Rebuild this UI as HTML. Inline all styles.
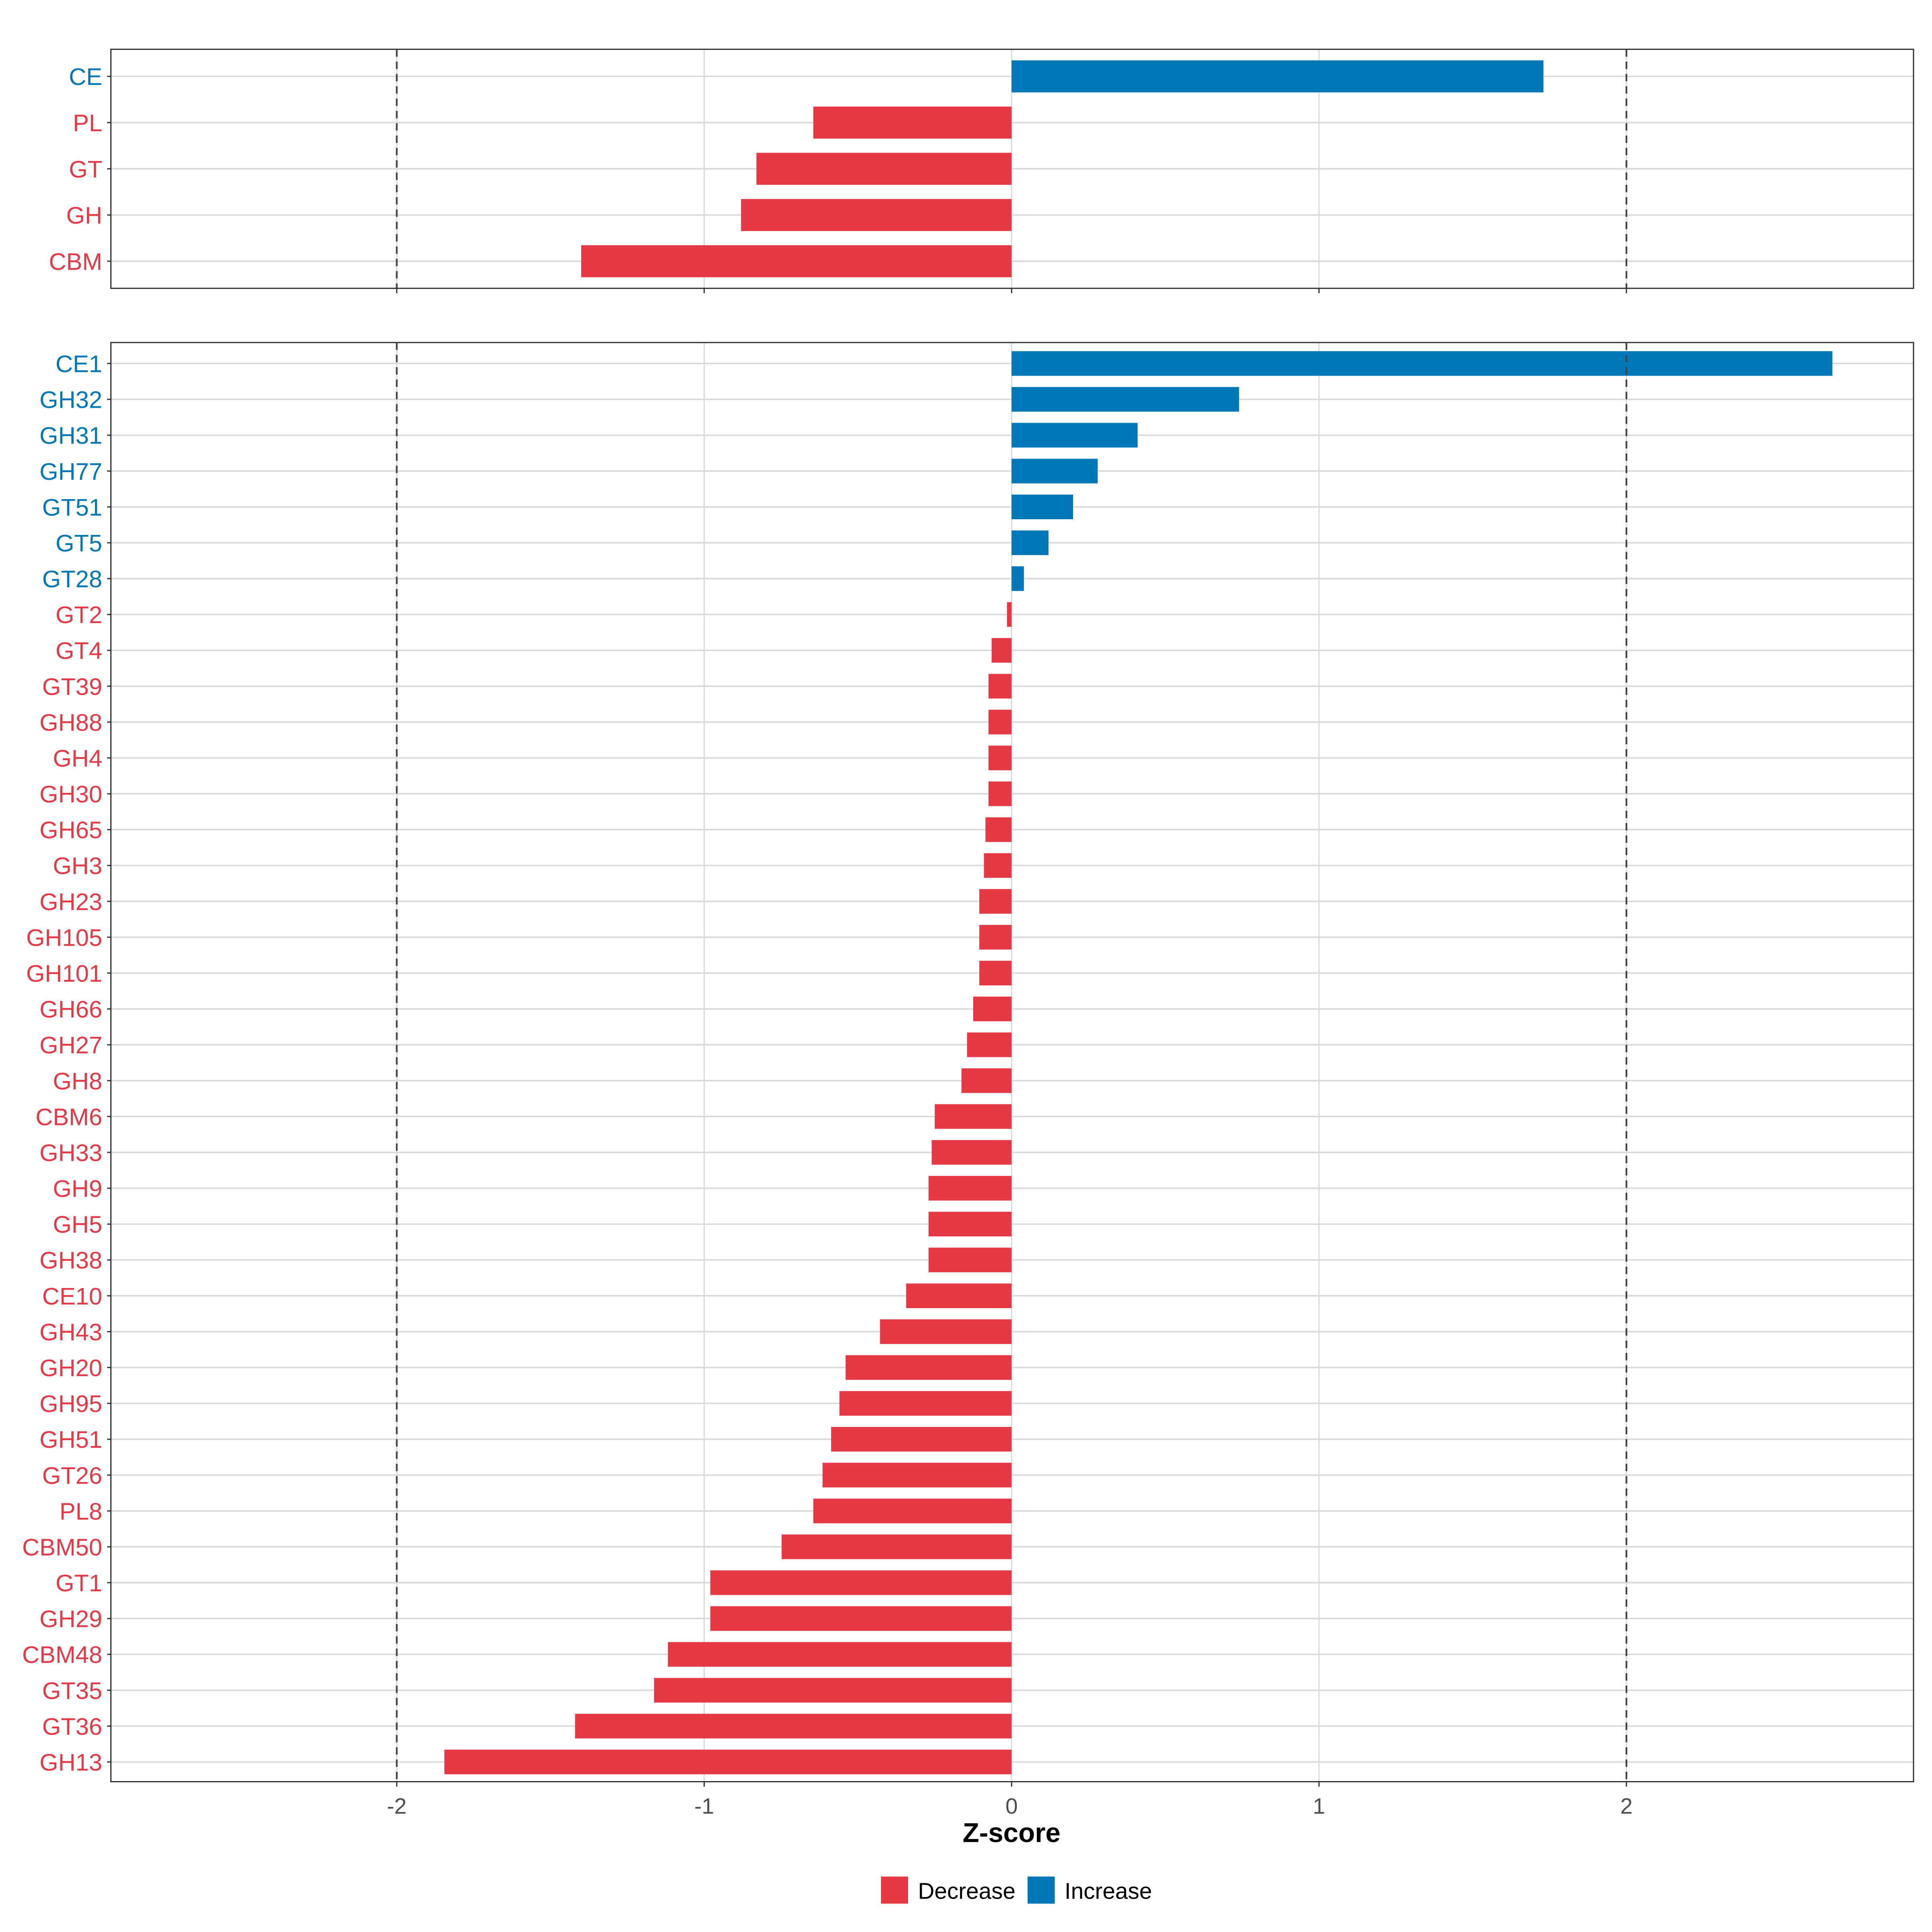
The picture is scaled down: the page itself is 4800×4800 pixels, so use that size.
<!DOCTYPE html>
<html><head><meta charset="utf-8"><style>html,body{margin:0;padding:0;background:#fff}svg{display:block}</style></head>
<body>
<svg id="chart" width="4800" height="4800" viewBox="0 0 1568 1568" xmlns="http://www.w3.org/2000/svg" font-family="Liberation Sans, sans-serif">
</svg>
<script>
const topCats = ["CE","PL","GT","GH","CBM"];
const topVals = [1.73,-0.645,-0.83,-0.88,-1.40];
const botCats = ["CE1","GH32","GH31","GH77","GT51","GT5","GT28","GT2","GT4","GT39","GH88","GH4","GH30","GH65","GH3","GH23","GH105","GH101","GH66","GH27","GH8","CBM6","GH33","GH9","GH5","GH38","CE10","GH43","GH20","GH95","GH51","GT26","PL8","CBM50","GT1","GH29","CBM48","GT35","GT36","GH13"];
const botVals = [2.67,0.74,0.41,0.28,0.20,0.12,0.04,-0.015,-0.065,-0.075,-0.075,-0.075,-0.075,-0.085,-0.09,-0.105,-0.105,-0.105,-0.125,-0.145,-0.163,-0.25,-0.26,-0.27,-0.27,-0.27,-0.343,-0.428,-0.54,-0.56,-0.587,-0.615,-0.645,-0.748,-0.98,-0.98,-1.118,-1.163,-1.42,-1.845];
const xTicks = [-2,-1,0,1,2];
const xTickLabels = ["-2","-1","0","1","2"];
const thresholds = [-2,2];

const RED="#E63946", BLUE="#0077B6";
const svg=document.getElementById('chart');
const NS="http://www.w3.org/2000/svg";
function mk(tag,attrs,parent){const e=document.createElementNS(NS,tag);for(const k in attrs)e.setAttribute(k,attrs[k]);(parent||svg).appendChild(e);return e;}
const L=90,R=1553;
function xs(v){return 821+v*249.5;}

function panel(name,top,bottom,cats,vals,firstY,step,barH){
  const g=mk('g',{});
  
  
  xTicks.forEach(t=>{const l=mk('line',{x1:xs(t),x2:xs(t),y1:top,y2:bottom,stroke:'#d9d9d9','stroke-width':1},g);
    });
  const ys=i=>firstY+i*step;
  cats.forEach((c,i)=>{const l=mk('line',{x1:L,x2:R,y1:ys(i),y2:ys(i),stroke:'#d9d9d9','stroke-width':1.2},g);
    });
  cats.forEach((c,i)=>{const v=vals[i];const x0=Math.min(xs(0),xs(v)),w=Math.abs(xs(v)-xs(0));
    const r=mk('rect',{x:x0,y:ys(i)-barH/2,width:w,height:barH,fill:v>=0?BLUE:RED},g);
    
    const t=mk('text',{x:L-7,y:ys(i)+7,'text-anchor':'end','font-size':19.5,fill:v>=0?BLUE:RED},g);
    t.textContent=c;
    const tk=mk('line',{x1:L-3,x2:L,y1:ys(i),y2:ys(i),stroke:'#333','stroke-width':1},g);
    });
  thresholds.forEach(t=>{const l=mk('line',{x1:xs(t),x2:xs(t),y1:top,y2:bottom,stroke:'#444','stroke-width':1.4,'stroke-dasharray':'6,4'},g);
    });
  const b=mk('rect',{x:L,y:top,width:R-L,height:bottom-top,fill:'none',stroke:'#333','stroke-width':1},g);
  
  xTicks.forEach(t=>{const l=mk('line',{x1:xs(t),x2:xs(t),y1:bottom,y2:bottom+4,stroke:'#333','stroke-width':1},g);
    });
}
panel('top-panel',40,234,topCats,topVals,62,37.5,26);
panel('bottom-panel',278,1446,botCats,botVals,295,(1430-295)/39,20);

xTicks.forEach((t,i)=>{const e=mk('text',{x:xs(t),y:1472,'text-anchor':'middle','font-size':18,fill:'#4d4d4d'});
  e.textContent=xTickLabels[i];});
const xt=mk('text',{x:821,y:1495,'text-anchor':'middle','font-size':22,'font-weight':'bold',fill:'#000'});
xt.textContent='Z-score';

const legend=mk('g',{});

[[715,RED,'Decrease',745],[834,BLUE,'Increase',864]].forEach(([x,c,lab,tx])=>{
  const r=mk('rect',{x:x,y:1523,width:22,height:22,fill:c},legend);
  
  const t=mk('text',{x:tx,y:1541,'font-size':18.5,fill:'#000'},legend);
  t.textContent=lab;
});
</script>
</body></html>
